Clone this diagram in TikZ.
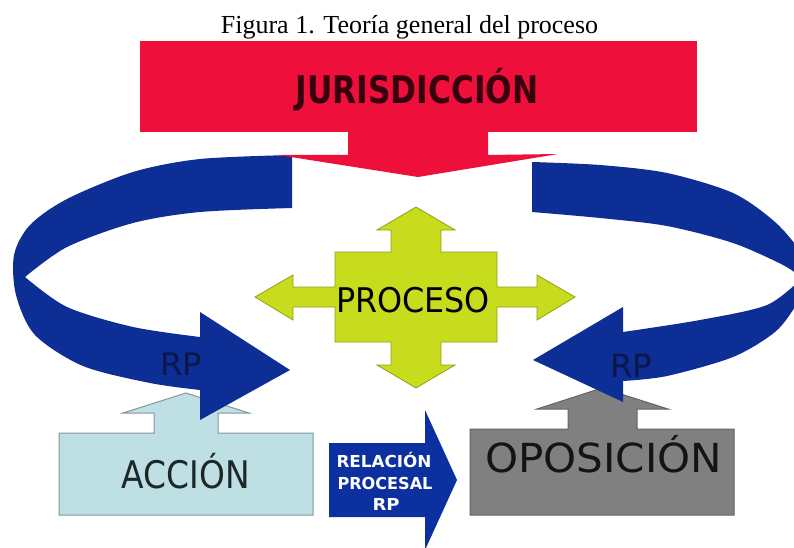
\documentclass[tikz,border=0pt]{standalone}
\usepackage{fontspec}
\usepackage{graphicx}
\setmainfont{Liberation Serif}
\newfontfamily\dvs{DejaVu Sans}
\newcommand{\fitw}[2]{\resizebox{#1}{\height}{#2}}
\definecolor{jred}{RGB}{238,16,58}
\definecolor{jtext}{RGB}{55,0,15}
\definecolor{rpblue}{RGB}{13,46,148}
\definecolor{relblue}{RGB}{12,48,160}
\definecolor{rptext}{RGB}{12,22,75}
\definecolor{pgreen}{RGB}{200,220,30}
\definecolor{pgreenedge}{RGB}{145,160,25}
\definecolor{acc}{RGB}{190,224,228}
\definecolor{accedge}{RGB}{135,150,155}
\definecolor{opo}{RGB}{128,128,128}
\definecolor{opoedge}{RGB}{100,100,100}
\begin{document}
\begin{tikzpicture}[x=1pt,y=-1pt,
  lbl/.style={inner sep=0pt, anchor=base},
  boxshape/.style={line width=1pt, line join=miter},
]
\useasboundingbox (0,0) rectangle (794,548);
\clip (0,0) rectangle (794,548);
\fill[white] (0,0) rectangle (794,548);

% ACCION shape (box with up arrow)
\draw[boxshape, fill=acc, draw=accedge] (59,433) -- (154,433) -- (154,413) -- (123,413) -- (186,393) -- (249,413) -- (218,413) -- (218,433) -- (313,433) -- (313,515) -- (59,515) -- cycle;

% OPOSICION shape
\draw[boxshape, fill=opo, draw=opoedge] (470,429) -- (568,429) -- (568,409) -- (537,409) -- (602,388) -- (668,409) -- (637,409) -- (637,429) -- (734,429) -- (734,515) -- (470,515) -- cycle;

% left blue curved arrow
\fill[rpblue] plot[smooth] coordinates {(292,155) (200,159) (133,172) (67,199) (30,225) (14,255) (16,295) (35,335) (83,366) (150,383) (200,390)}
  -- (200,420) -- (290,370) -- (200,312)
  -- plot[smooth] coordinates {(200,337) (133,327) (67,307) (25,277)}
  -- plot[smooth] coordinates {(25,277) (67,247) (133,223) (200,212) (292,208)} -- cycle;

% right blue curved arrow
\fill[rpblue] plot[smooth] coordinates {(532,162) (600,165) (667,173) (733,193) (775,222) (800,252) (806,280) (796,305) (775,332) (733,357) (667,376) (623,381)}
  -- (623,402) -- (533,360) -- (623,307)
  -- plot[smooth] coordinates {(623,332) (700,320) (767,305) (802,278)}
  -- plot[smooth] coordinates {(802,278) (783,265) (733,243) (667,226) (600,218) (532,212)} -- cycle;

% red JURISDICCION arrow
\fill[jred] (140,41) rectangle (697,132);
\fill[jred] (348,131) -- (488,131) -- (488,155) -- (558,154) -- (418,177) -- (278,155) -- (348,155) -- cycle;

% green PROCESO cross
\draw[line width=0.8pt, line join=miter, fill=pgreen, draw=pgreenedge]
  (335,252) -- (391,252) -- (391,230) -- (377,230) -- (416,207) -- (455,230) -- (441,230) -- (441,252)
  -- (497,252) -- (497,287) -- (537,287) -- (537,275) -- (575,297) -- (537,320) -- (537,307) -- (497,307)
  -- (497,342) -- (441,342) -- (441,365) -- (455,365) -- (416,388) -- (377,365) -- (391,365) -- (391,342)
  -- (335,342) -- (335,307) -- (293,307) -- (293,320) -- (255,297) -- (293,275) -- (293,287) -- (335,287) -- cycle;

% RELACION PROCESAL arrow
\fill[relblue] (329,443) -- (425,443) -- (425,410) -- (457,480) -- (425,550) -- (425,517) -- (329,517) -- cycle;

% texts
\node[lbl] (title) at (409.5,34) {\fontsize{26}{30}\selectfont Figura 1. Teoría general del proceso};
\node[lbl, text=jtext] (jur) at (417,104) {\fitw{243pt}{\dvs\bfseries\fontsize{38}{40}\selectfont JURISDICCIÓN}};
\node[lbl, text=black] (proc) at (413,312) {\fitw{154pt}{\dvs\fontsize{34}{36}\selectfont PROCESO}};
\node[lbl, text=rptext] (rpl) at (181,375) {\fitw{42pt}{\dvs\fontsize{31}{33}\selectfont RP}};
\node[lbl, text=rptext] (rpr) at (631,377) {\fitw{42pt}{\dvs\fontsize{32}{34}\selectfont RP}};
\node[lbl, text={rgb,255:red,28;green,40;blue,40}] (acct) at (186,488) {\fitw{128pt}{\dvs\fontsize{38}{40}\selectfont ACCIÓN}};
\node[lbl, text={rgb,255:red,20;green,20;blue,20}] (opot) at (603.5,472) {\fitw{237pt}{\dvs\fontsize{40}{42}\selectfont OPOSICIÓN}};
\node[lbl, text=white] (rel1) at (384,467) {\fitw{95pt}{\dvs\bfseries\fontsize{16.5}{18}\selectfont RELACIÓN}};
\node[lbl, text=white] (rel2) at (385,489) {\fitw{95pt}{\dvs\bfseries\fontsize{16.5}{18}\selectfont PROCESAL}};
\node[lbl, text=white] (rel3) at (386,510) {\fitw{27pt}{\dvs\bfseries\fontsize{16.5}{18}\selectfont RP}};
\end{tikzpicture}
\end{document}
